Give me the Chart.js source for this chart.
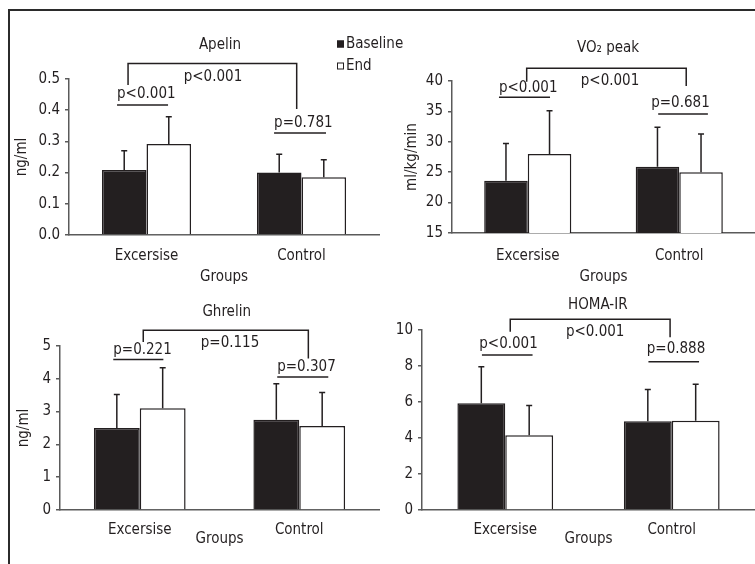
<!DOCTYPE html>
<html>
<head>
<meta charset="utf-8">
<script src="https://cdn.jsdelivr.net/npm/chart.js@4.4.1/dist/chart.umd.min.js"></script>
<style>
html,body{margin:0;padding:0;background:#fff;width:755px;height:564px;overflow:hidden}
.frame{position:absolute;left:8px;top:9px;width:760px;height:570px;border-top:2px solid #2b2b2b;border-left:2px solid #2b2b2b}
canvas{position:absolute;left:0;top:0}
</style>
</head>
<body>
<div class="frame"></div>
<canvas id="c1" width="755" height="564"></canvas>
<canvas id="c2" width="755" height="564"></canvas>
<canvas id="c3" width="755" height="564"></canvas>
<canvas id="c4" width="755" height="564"></canvas>
<script>
// ---- data ----
const categories = ['Excersise', 'Control'];
const seriesNames = ['Baseline', 'End'];

const apelinBaseline = [0.208, 0.200];
const apelinBaselineSD = [0.062, 0.059];
const apelinEnd = [0.292, 0.185];
const apelinEndSD = [0.087, 0.056];
const apelinP = ['p<0.001', 'p=0.781', 'p<0.001']; // within Excersise, within Control, between groups

const vo2Baseline = [23.6, 25.9];
const vo2BaselineSD = [6.1, 6.5];
const vo2End = [28.0, 25.0];
const vo2EndSD = [7.1, 6.3];
const vo2P = ['p<0.001', 'p=0.681', 'p<0.001'];

const ghrelinBaseline = [2.50, 2.75];
const ghrelinBaselineSD = [1.02, 1.10];
const ghrelinEnd = [3.10, 2.56];
const ghrelinEndSD = [1.24, 1.02];
const ghrelinP = ['p=0.221', 'p=0.307', 'p=0.115'];

const homaBaseline = [5.93, 4.93];
const homaBaselineSD = [2.03, 1.77];
const homaEnd = [4.15, 4.96];
const homaEndSD = [1.65, 2.02];
const homaP = ['p<0.001', 'p=0.888', 'p<0.001'];

const titles = ['Apelin', 'VO\u2082 peak', 'Ghrelin', 'HOMA-IR'];
const yTitles = ['ng/ml', 'ml/kg/min', 'ng/ml', ''];
const xTitle = 'Groups';

// ---- style ----
const FONT = "'DejaVu Sans Condensed','DejaVu Sans',sans-serif";
const FS = 15;
const INK = '#231f20';
const AX = '#5a5a5a';

const annotPlugin = {
  id: 'annot',
  afterDatasetsDraw(chart) {
    const ctx = chart.ctx, ys = chart.scales.y;
    chart.data.datasets.forEach((ds, di) => {
      const meta = chart.getDatasetMeta(di);
      meta.data.forEach((bar, i) => {
        const top = ys.getPixelForValue(ds.data[i]);
        const tip = ys.getPixelForValue(ds.data[i] + ds.sd[i]);
        ctx.save();
        ctx.strokeStyle = INK; ctx.lineWidth = 1.5;
        ctx.beginPath();
        ctx.moveTo(bar.x, top); ctx.lineTo(bar.x, tip);
        ctx.moveTo(bar.x - 3, tip); ctx.lineTo(bar.x + 3, tip);
        ctx.stroke();
        ctx.restore();
      });
    });
  },
  afterDraw(chart) {
    const a = chart.options.plugins.annot;
    if (!a) return;
    const ctx = chart.ctx, xs = chart.scales.x, ys = chart.scales.y;
    const x0 = xs.getPixelForValue(0), x1 = xs.getPixelForValue(1);
    const px = c => x0 + c * (x1 - x0);
    const py = v => ys.getPixelForValue(v);
    ctx.save();
    ctx.font = FS + 'px ' + FONT;
    ctx.fillStyle = INK;
    ctx.strokeStyle = INK;
    ctx.lineWidth = 1.5;
    ctx.textBaseline = 'middle';
    // title
    ctx.textAlign = 'center';
    ctx.fillText(a.title, px(a.titleC), chart.chartArea.top + a.titleDy);
    // bracket between groups
    const b = a.bracket;
    ctx.beginPath();
    ctx.moveTo(px(b.c1), py(b.v1));
    ctx.lineTo(px(b.c1), py(b.v));
    ctx.lineTo(px(b.c2), py(b.v));
    ctx.lineTo(px(b.c2), py(b.v2));
    ctx.stroke();
    ctx.fillText(a.texts[2], px(b.tc), py(b.tv));
    // within-group p-values with underline
    ctx.textAlign = 'left';
    a.pairs.forEach((p, i) => {
      ctx.fillText(a.texts[i], px(p.c), py(p.v));
      ctx.beginPath();
      ctx.moveTo(px(p.uc1), py(p.uv));
      ctx.lineTo(px(p.uc2), py(p.uv));
      ctx.stroke();
    });
    // legend
    if (a.legend) {
      const L = a.legend;
      chart.data.datasets.forEach((ds, i) => {
        const y = L.y + i * L.dy;
        ctx.fillStyle = ds.backgroundColor;
        ctx.fillRect(L.x, y - 3.5, 7, 7);
        ctx.strokeStyle = INK; ctx.lineWidth = 1;
        ctx.strokeRect(L.x + 0.5, y - 3, 6, 6);
        ctx.fillStyle = INK;
        ctx.fillText(ds.label, L.x + 9, y);
      });
    }
    ctx.restore();
  }
};

function makeChart(id, base, baseSD, end, endSD, o) {
  return new Chart(document.getElementById(id), {
    type: 'bar',
    data: {
      labels: categories,
      datasets: [
        { label: seriesNames[0], data: base, sd: baseSD, backgroundColor: INK, borderColor: INK, borderWidth: 1.5 },
        { label: seriesNames[1], data: end, sd: endSD, backgroundColor: '#ffffff', borderColor: INK, borderWidth: 1.5 }
      ]
    },
    options: {
      responsive: false,
      animation: false,
      events: [],
      layout: { padding: { left: o.padL, top: o.top, right: 755 - o.right, bottom: 564 - o.bottom - o.xH } },
      datasets: { bar: { categoryPercentage: 0.575, barPercentage: 1 } },
      plugins: { legend: { display: false }, tooltip: { enabled: false }, annot: o.annot },
      scales: {
        x: {
          grid: { display: false, drawTicks: false },
          border: { display: true, color: AX, width: 1.5 },
          ticks: { color: INK, font: { family: FONT, size: FS }, padding: o.xPad },
          title: { display: true, text: xTitle, color: INK, font: { family: FONT, size: FS }, padding: 0 },
          afterFit(s) { s.height = o.xH; }
        },
        y: {
          min: o.min, max: o.max,
          ticks: { stepSize: o.step, color: INK, font: { family: FONT, size: FS }, padding: 5,
                   callback: v => o.dec ? Number(v).toFixed(o.dec) : String(v) },
          grid: { drawOnChartArea: false, drawTicks: true, tickLength: 4, color: AX, lineWidth: 1.5 },
          border: { display: true, color: AX, width: 1.5 },
          title: { display: !!o.yTitle, text: o.yTitle, color: INK, font: { family: FONT, size: FS }, padding: 0 },
          afterFit(s) { s.width = o.left - o.padL; }
        }
      }
    },
    plugins: [annotPlugin]
  });
}

makeChart('c1', apelinBaseline, apelinBaselineSD, apelinEnd, apelinEndSD, {
  padL: 13, left: 69, right: 379, top: 79, bottom: 235, xH: 51, xPad: 12,
  min: 0, max: 0.5, step: 0.1, dec: 1, yTitle: yTitles[0],
  annot: {
    title: titles[0], titleC: 0.474, titleDy: -34, texts: apelinP,
    bracket: { c1: -0.119, c2: 0.969, v: 0.550, v1: 0.481, v2: 0.404, tc: 0.429, tv: 0.506 },
    pairs: [
      { c: -0.19, v: 0.452, uc1: -0.19, uc2: 0.139, uv: 0.417 },
      { c: 0.823, v: 0.359, uc1: 0.823, uc2: 1.158, uv: 0.327 }
    ],
    legend: { x: 337, y: 44, dy: 22 }
  }
});

makeChart('c2', vo2Baseline, vo2BaselineSD, vo2End, vo2EndSD, {
  padL: 403, left: 452, right: 755, top: 81, bottom: 233, xH: 53, xPad: 14,
  min: 15, max: 40, step: 5, dec: 0, yTitle: yTitles[1],
  annot: {
    title: titles[1], titleC: 0.53, titleDy: -33, texts: vo2P,
    bracket: { c1: -0.007, c2: 1.046, v: 42.08, v1: 39.89, v2: 39.18, tc: 0.543, tv: 39.9 },
    pairs: [
      { c: -0.19, v: 38.85, uc1: -0.19, uc2: 0.147, uv: 37.32 },
      { c: 0.815, v: 36.44, uc1: 0.861, uc2: 1.189, uv: 34.58 }
    ]
  }
});

makeChart('c3', ghrelinBaseline, ghrelinBaselineSD, ghrelinEnd, ghrelinEndSD, {
  padL: 15, left: 60, right: 379, top: 346, bottom: 510, xH: 38, xPad: 11,
  min: 0, max: 5, step: 1, dec: 0, yTitle: yTitles[2],
  annot: {
    title: titles[2], titleC: 0.545, titleDy: -33.5, texts: ghrelinP,
    bracket: { c1: 0.022, c2: 1.057, v: 5.478, v1: 5.122, v2: 4.617, tc: 0.566, tv: 5.073 },
    pairs: [
      { c: -0.166, v: 4.869, uc1: -0.166, uc2: 0.148, uv: 4.586 },
      { c: 0.862, v: 4.343, uc1: 0.862, uc2: 1.182, uv: 4.057 }
    ]
  }
});

makeChart('c4', homaBaseline, homaBaselineSD, homaEnd, homaEndSD, {
  padL: 390, left: 422, right: 755, top: 330, bottom: 510, xH: 38, xPad: 11,
  min: 0, max: 10, step: 2, dec: 0, yTitle: yTitles[3],
  annot: {
    title: titles[3], titleC: 0.556, titleDy: -25, texts: homaP,
    bracket: { c1: 0.030, c2: 0.990, v: 10.594, v1: 9.906, v2: 9.594, tc: 0.540, tv: 9.906 },
    pairs: [
      { c: -0.156, v: 9.206, uc1: -0.140, uc2: 0.164, uv: 8.611 },
      { c: 0.85, v: 8.928, uc1: 0.860, uc2: 1.164, uv: 8.239 }
    ]
  }
});
</script>
</body>
</html>
